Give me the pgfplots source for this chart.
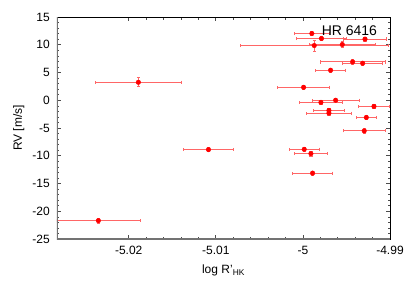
\documentclass[border=0pt]{standalone}
\usepackage{fontspec}
\setmainfont{Liberation Sans}
\usepackage{pgfplots}
\pgfplotsset{compat=1.18}
\usepackage{pgfplotstable}

\pgfplotstableread{
x y ex ey
-4.99897 12.03 0.0020 0.4
-4.99787 11.13 0.0029 0.4
-4.99287 11.02 0.0025 0.4
-4.99870 9.86 0.0085 1.0
-4.99548 10.04 0.0038 0.5
-4.99429 6.91 0.0037 0.4
-4.99314 6.67 0.0023 0.4
-4.99682 5.41 0.0017 0.4
-4.99992 2.33 0.0030 0.4
-4.99624 0.00 0.0027 0.4
-4.99793 -0.38 0.0025 0.4
-4.99184 -1.11 0.0018 0.4
-4.99701 -1.83 0.0018 0.4
-4.99701 -2.32 0.0026 0.4
-4.99272 -3.10 0.0011 0.4
-4.99296 -5.52 0.0024 0.4
-4.99985 -8.84 0.0017 0.4
-4.99908 -9.62 0.0019 0.4
-4.99889 -13.13 0.0023 0.4
-5.01084 -8.89 0.0029 0.4
-5.01889 3.24 0.0049 0.8
-5.02348 -21.69 0.0048 0.5
}\rvdata

\begin{document}
\fontsize{12bp}{14bp}\selectfont
\begin{tikzpicture}
\path[use as bounding box] (-57bp,-44bp) rectangle (358bp,239bp);
\begin{axis}[
  at={(0,0)}, anchor=south west,
  scale only axis,
  width=333bp, height=222bp,
  xmin=-5.02823, xmax=-4.99,
  ymin=-25, ymax=15,
  xtick={-5.02,-5.01,-5,-4.99},
  xticklabels={-5.02,-5.01,-5,-4.99},
  ytick={-25,-20,-15,-10,-5,0,5,10,15},
  yticklabels={-25,-20,-15,-10,-5,0,5,10,15},
  minor x tick num=4,
  minor y tick num=4,
  major tick length=4bp,
  minor tick length=2.5bp,
  tick style={black!70, line width=0.6bp},
  axis line style={black, line width=0.8bp},
  xticklabel style={font=\fontsize{12bp}{14bp}\selectfont, yshift=-3bp},
  yticklabel style={font=\fontsize{12bp}{14bp}\selectfont, xshift=-3bp},
  xlabel={log R'\textsubscript{HK}},
  ylabel={RV [m/s]},
  label style={font=\fontsize{12bp}{14bp}\selectfont},
  xlabel style={yshift=-2bp},
  clip=true,
]
\addplot[
  only marks,
  mark=*,
  mark size=2.3bp,
  color=red,
  error bars/.cd,
    x dir=both, x explicit,
    y dir=both, y explicit,
    error bar style={red!60, line width=0.9bp},
    error mark options={rotate=90, mark size=1.6bp, red!60, line width=0.7bp},
] table[x=x, y=y, x error=ex, y error=ey] {\rvdata};
\draw[black!55, line width=1.3bp] (rel axis cs:0,1) -- (rel axis cs:0,0) -- (rel axis cs:1,0);
\node[anchor=center, font=\fontsize{14bp}{16bp}\selectfont] at (rel axis cs:0.878,0.94) {HR 6416};
\end{axis}
\end{tikzpicture}
\end{document}
